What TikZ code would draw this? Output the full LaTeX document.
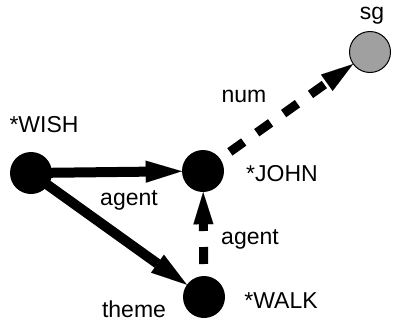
\documentclass[tikz,border=0pt]{standalone}
\usepackage{fontspec}
\setmainfont{Liberation Sans}
\usetikzlibrary{arrows.meta}
\definecolor{nodegray}{RGB}{160,160,160}
\begin{document}
\begin{tikzpicture}[x=1pt,y=-1pt,
  vertex/.style={circle,fill=black,minimum size=42pt,inner sep=0pt},
  greyvertex/.style={circle,fill=nodegray,draw=black,line width=1pt,minimum size=41pt,inner sep=0pt},
  lbl/.style={anchor=base,inner sep=0pt,font=\fontsize{23}{27}\selectfont},
  solidarrow/.style={line width=10pt,-{Triangle[length=36pt,width=22pt,line width=0.01pt]}},
  dasharrow/.style={line width=9pt,dash pattern=on 17pt off 16pt,-{Triangle[length=32pt,width=20pt,line width=0.01pt]}}]
\useasboundingbox (0,0) rectangle (393,327);
\node[vertex] (wish) at (31,173) {};
\node[vertex] (john) at (203,171) {};
\node[vertex] (walk) at (204,297) {};
\node[greyvertex] (sg) at (370,52) {};
\draw[solidarrow] (wish.center) -- (john);
\draw[solidarrow] (wish.center) -- (walk);
\draw[dasharrow] (walk.center) -- (john);
\draw[dasharrow] (john.center) -- (sg);
\node[lbl] (lwish) at (44,132) {*WISH};
\node[lbl] (ljohn) at (282,181) {*JOHN};
\node[lbl] (lwalk) at (281,308) {*WALK};
\node[lbl] (lagent1) at (129,205) {agent};
\node[lbl] (ltheme) at (134,317) {theme};
\node[lbl] (lagent2) at (250,244) {agent};
\node[lbl] (lnum) at (244,102) {num};
\node[lbl] (lsg) at (372,19) {sg};
\end{tikzpicture}
\end{document}
